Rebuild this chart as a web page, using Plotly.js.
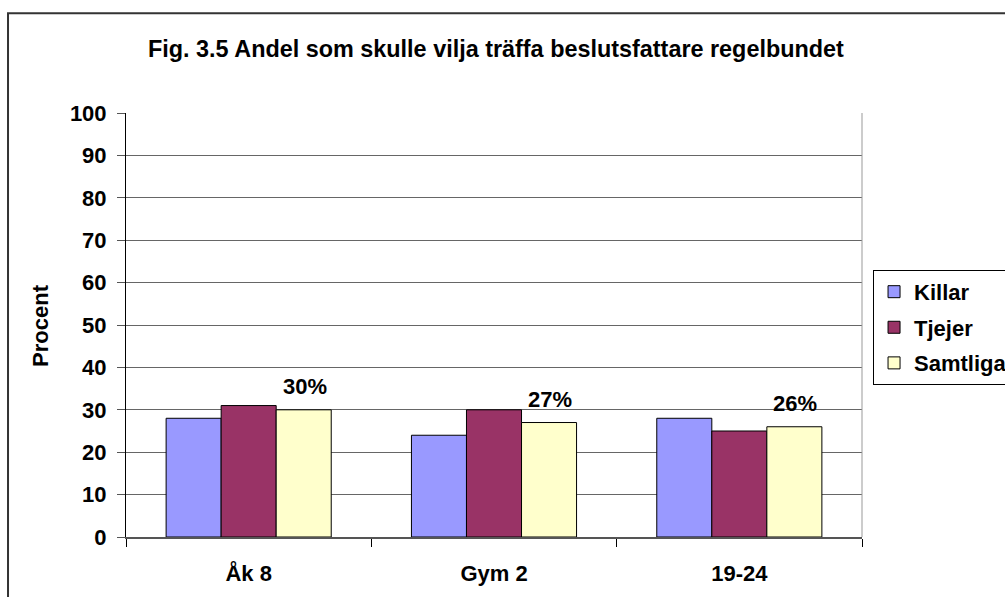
<!DOCTYPE html>
<html>
<head>
<meta charset="utf-8">
<script src="https://cdn.plot.ly/plotly-3.0.1.min.js"></script>
<style>html,body{margin:0;padding:0;background:#fff;}#chart{width:1005px;height:597px;}</style>
</head>
<body>
<div id="chart"></div>
<script>
var categories = ["Åk 8", "Gym 2", "19-24"];
var killar = [28, 24, 28];
var tjejer = [31, 30, 25];
var samtliga = [30, 27, 26];
var samtligaLabels = ["30%", "27%", "26%"];
var yTicks = [0, 10, 20, 30, 40, 50, 60, 70, 80, 90, 100];

var FONT = "Liberation Sans, Arial, sans-serif";
var FS = 22;
function bar(name, vals, color, grp) {
  return {
    type: "bar", name: name, x: categories, y: vals, legendgroup: grp,
    marker: {color: color, line: {color: "#000", width: 1}},
    hoverinfo: "y"
  };
}
var data = [
  bar("Killar", killar, "#9999FF", "a"),
  bar("Tjejer", tjejer, "#993366", "b"),
  bar("Samtliga", samtliga, "#FFFFCC", "c")
];

var annotations = categories.map(function (c, i) {
  return {
    x: c, y: samtliga[i], xref: "x", yref: "y", text: samtligaLabels[i],
    showarrow: false, yanchor: "bottom", xshift: 56, yshift: 9,
    font: {family: FONT, size: FS, color: "#000", weight: "bold"}
  };
});
annotations.push({
  text: "Procent", xref: "paper", yref: "paper", x: -0.117, y: 0.5,
  xanchor: "center", yanchor: "middle", textangle: -90, showarrow: false,
  font: {family: FONT, size: FS, color: "#000", weight: "bold"}
});

var layout = {
  width: 1005, height: 597,
  margin: {l: 126, r: 143, t: 113, b: 60, pad: 0, autoexpand: false},
  paper_bgcolor: "#fff", plot_bgcolor: "#fff",
  font: {family: FONT, size: FS, color: "#000", weight: "bold"},
  title: {
    text: "<b>Fig. 3.5 Andel som skulle vilja träffa beslutsfattare regelbundet</b>",
    x: 0.4935, xanchor: "center", y: 0.918, yanchor: "middle",
    font: {family: FONT, size: 23.4, color: "#000"}
  },
  barmode: "group", bargap: 0.327, bargroupgap: 0,
  xaxis: {
    type: "category", showgrid: false, showline: true, linecolor: "#555", linewidth: 2,
    ticks: "outside", tickson: "boundaries", ticklen: 8, tickcolor: "#000",
    ticklabelstandoff: 16, automargin: false,
    tickfont: {family: FONT, size: FS, color: "#000", weight: "bold"}
  },
  yaxis: {
    range: [0, 100], tickvals: yTicks, showgrid: true, gridcolor: "#666", gridwidth: 1,
    showline: true, linecolor: "#000", linewidth: 1, zeroline: false,
    ticks: "outside", ticklen: 8, tickcolor: "#555",
    ticklabelstandoff: 6, automargin: false,
    tickfont: {family: FONT, size: FS, color: "#000", weight: "bold"}
  },
  legend: {
    x: 1.015, xanchor: "left", y: 0.63, yanchor: "top",
    bgcolor: "#fff", bordercolor: "#000", borderwidth: 1,
    traceorder: "grouped", tracegroupgap: 4, itemwidth: 30,
    font: {family: FONT, size: FS, color: "#000", weight: "bold"}
  },
  annotations: annotations,
  shapes: [
    {type: "line", xref: "x domain", yref: "y domain", x0: 1, x1: 1, y0: 0, y1: 1,
     line: {color: "#999", width: 1}},
    {type: "rect", xref: "paper", yref: "paper", x0: -0.1603, x1: 1.3, y0: -0.3, y1: 1.235,
     line: {color: "#333", width: 2}, fillcolor: "rgba(0,0,0,0)", layer: "below"}
  ],
  showlegend: true
};

Plotly.newPlot("chart", data, layout, {displayModeBar: false, staticPlot: true});
</script>
</body>
</html>
